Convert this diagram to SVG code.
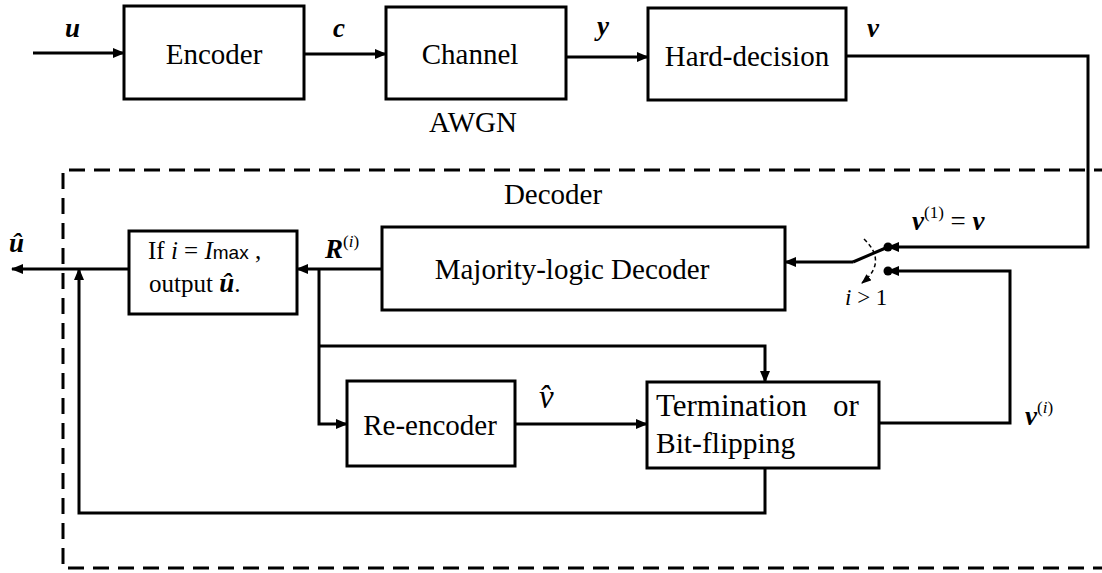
<svg xmlns="http://www.w3.org/2000/svg" width="1102" height="573" viewBox="0 0 1102 573">
<style>
.box{fill:#fff;stroke:#000;stroke-width:3}
.ln{fill:none;stroke:#000;stroke-width:3}
.t{font-family:"Liberation Serif","Times New Roman",serif;font-size:29px;fill:#000}
.m{font-family:"Liberation Serif","Times New Roman",serif;font-style:italic;font-weight:bold;font-size:27px;fill:#000}
.mi{font-family:"Liberation Serif","Times New Roman",serif;font-style:italic;font-size:33px;fill:#000}
.sup{font-family:"Liberation Serif","Times New Roman",serif;font-size:17px;fill:#000}
</style>
<defs>
<marker id="ah" markerWidth="12" markerHeight="10" refX="11" refY="5" orient="auto" markerUnits="userSpaceOnUse">
<path d="M0,0 L12,5 L0,10 Z" fill="#000"/>
</marker>
<marker id="ahs" markerWidth="10" markerHeight="8" refX="9" refY="4" orient="auto" markerUnits="userSpaceOnUse">
<path d="M0,0 L10,4 L0,8 Z" fill="#000"/>
</marker>
</defs>

<g id="decoder-region">
<path d="M1110 170 H63 V568 H1110" fill="none" stroke="#000" stroke-width="3" stroke-dasharray="16 9"/>
<text class="t" x="553" y="204" text-anchor="middle">Decoder</text>
</g>

<g id="encoder"><rect class="box" x="124" y="6" width="180" height="93"/><text class="t" x="214" y="64" text-anchor="middle">Encoder</text></g>
<g id="channel"><rect class="box" x="386" y="7" width="180" height="92"/><text class="t" x="470" y="64" text-anchor="middle">Channel</text><text class="t" x="473" y="132" text-anchor="middle">AWGN</text></g>
<g id="hard-decision"><rect class="box" x="648" y="8" width="198" height="92"/><text class="t" x="747" y="66" text-anchor="middle">Hard-decision</text></g>
<g id="majority"><rect class="box" x="382" y="227" width="403" height="83"/><text class="t" x="572" y="279" text-anchor="middle">Majority-logic Decoder</text></g>
<g id="output-box"><rect class="box" x="129" y="231" width="168" height="83"/>
<text x="148" y="259" style="font-family:'Liberation Serif',serif;font-size:25px">If <tspan font-style="italic">i</tspan> = <tspan font-style="italic">I</tspan><tspan style="font-family:'Liberation Sans',sans-serif;font-size:19px">max</tspan> ,</text>
<text x="149" y="292" style="font-family:'Liberation Serif',serif;font-size:25px">output <tspan font-style="italic" font-weight="bold" font-size="27px">û</tspan>.</text>
</g>
<g id="re-encoder"><rect class="box" x="347" y="381" width="168" height="85"/><text class="t" x="430" y="435" text-anchor="middle">Re-encoder</text></g>
<g id="termination"><rect class="box" x="647" y="382" width="232" height="86"/>
<text x="656" y="416" style="font-family:'Liberation Serif',serif;font-size:31px">Termination</text>
<text x="833" y="416" style="font-family:'Liberation Serif',serif;font-size:31px">or</text>
<text x="656" y="453" style="font-family:'Liberation Serif',serif;font-size:29.5px">Bit-flipping</text>
</g>

<g id="switch">
<circle cx="888" cy="247" r="4.5" fill="#000"/>
<circle cx="888" cy="271" r="4.5" fill="#000"/>
<path class="ln" d="M853 262 L888 247"/>
<path d="M864 239 Q888 262 862 283" fill="none" stroke="#000" stroke-width="1.5" stroke-dasharray="4 3" marker-end="url(#ahs)"/>
<text x="845" y="305" style="font-family:'Liberation Serif',serif;font-size:23px"><tspan font-style="italic">i</tspan> &gt; 1</text>
</g>

<g id="connectors">
<line class="ln" x1="33" y1="53" x2="124" y2="53" marker-end="url(#ah)"/>
<line class="ln" x1="304" y1="54" x2="386" y2="54" marker-end="url(#ah)"/>
<line class="ln" x1="566" y1="57" x2="648" y2="57" marker-end="url(#ah)"/>
<path class="ln" d="M846 56 H1088 V247 H888" marker-end="url(#ah)"/>
<path class="ln" d="M853 262 H785" marker-end="url(#ah)"/>
<path class="ln" d="M879 423 H1010 V271 H888" marker-end="url(#ah)"/>
<line class="ln" x1="382" y1="269" x2="297" y2="269" marker-end="url(#ah)"/>
<path class="ln" d="M319 269 V424 H347" marker-end="url(#ah)"/>
<path class="ln" d="M319 346 H765 V382" marker-end="url(#ah)"/>
<line class="ln" x1="515" y1="424" x2="647" y2="424" marker-end="url(#ah)"/>
<path class="ln" d="M765 468 V513 H79 V269" marker-end="url(#ah)"/>
<line class="ln" x1="129" y1="269" x2="12" y2="269" marker-end="url(#ah)"/>
</g>

<g id="labels">
<text class="m" x="65" y="37">u</text>
<text class="m" x="333" y="37">c</text>
<text class="m" x="597" y="35">y</text>
<text class="m" x="867" y="37">v</text>
<text class="m" x="9" y="252">û</text>
<text class="m" x="325" y="258">R<tspan class="sup" font-style="normal" font-weight="normal" dy="-11">(</tspan><tspan class="sup" font-style="italic" font-weight="normal">i</tspan><tspan class="sup" font-style="normal" font-weight="normal">)</tspan></text>
<text class="m" x="912" y="230">v<tspan class="sup" font-style="normal" font-weight="normal" dy="-12">(1)</tspan><tspan font-style="normal" font-weight="normal" dy="12"> = </tspan>v</text>
<text class="mi" x="539" y="408">v̂</text>
<text class="m" x="1025" y="425">v<tspan class="sup" font-style="normal" font-weight="normal" dy="-12">(</tspan><tspan class="sup" font-style="italic" font-weight="normal">i</tspan><tspan class="sup" font-style="normal" font-weight="normal">)</tspan></text>
</g>
</svg>
